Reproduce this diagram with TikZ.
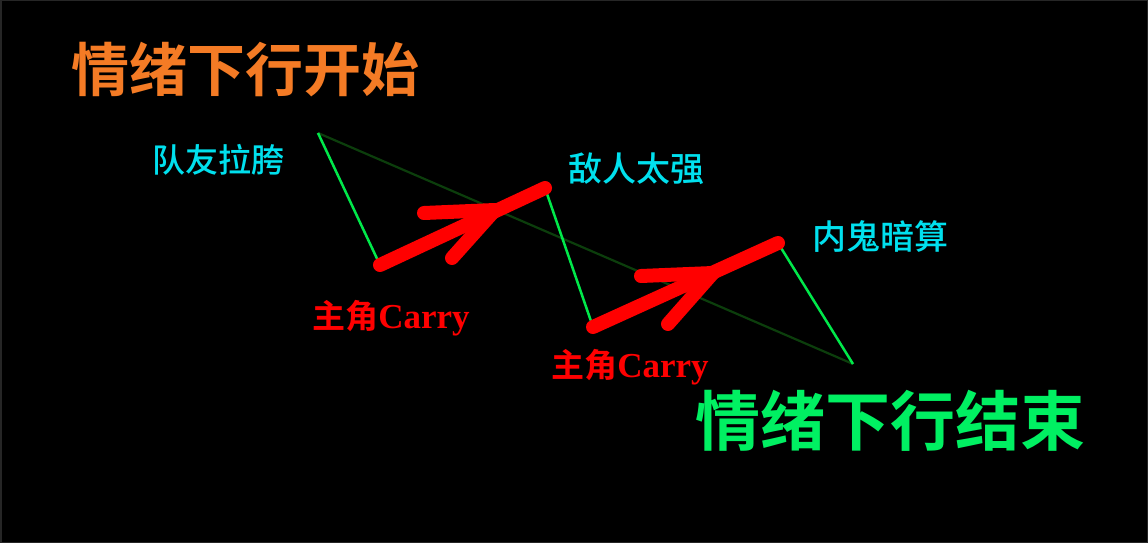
\documentclass[tikz,border=0pt]{standalone}
\usepackage{fontspec}
\newfontfamily\cjk{Noto Sans CJK SC Medium}
\newfontfamily\cjkb{Noto Sans CJK SC Bold}
\newfontfamily\latb{Liberation Serif}[UprightFont=* Bold]
\definecolor{bgline}{HTML}{262626}
\definecolor{ttlorange}{HTML}{F47B25}
\definecolor{ttlgreen}{HTML}{00F062}
\definecolor{lblcyan}{HTML}{00E0EE}
\definecolor{lblred}{HTML}{FF0000}
\definecolor{zig}{HTML}{00E84A}
\definecolor{trend}{HTML}{0C3E0C}
\tikzset{
  txt/.style={inner sep=0pt, anchor=center},
  zigline/.style={draw=zig, line width=2.5pt},
  trendline/.style={draw=trend, line width=2.2pt},
  bigarrow/.style={draw=lblred, line width=14pt, line cap=round},
}
\begin{document}
\begin{tikzpicture}[x=1pt,y=-1pt]
\fill[black] (0,0) rectangle (1148,543);
\useasboundingbox (0,0) rectangle (1148,543);
\draw[bgline, line width=3pt] (0,0) rectangle (1148,543);
% points
\coordinate (p1) at (318,133);
\coordinate (p2) at (380,265);
\coordinate (p3) at (545,188);
\coordinate (p4) at (593,327);
\coordinate (p5) at (778,243);
\coordinate (p6) at (853,364);
\coordinate (t1) at (495,210);
\coordinate (h1a) at (424,213);
\coordinate (h1b) at (452,258);
\coordinate (t2) at (713,273);
\coordinate (h2a) at (641,276);
\coordinate (h2b) at (668,324);
% lines
\draw[trendline] (p1) -- (p6);
\draw[zigline] (p1) -- (p2);
\draw[zigline] (p3) -- (p4);
\draw[zigline] (p5) -- (p6);
\draw[bigarrow] (p2) -- (p3);
\draw[bigarrow] (h1a) -- (t1);
\draw[bigarrow] (h1b) -- (t1);
\draw[bigarrow] (p4) -- (p5);
\draw[bigarrow] (h2a) -- (t2);
\draw[bigarrow] (h2b) -- (t2);
% texts
\node[txt, text=ttlorange, font=\cjkb\fontsize{58}{60}\selectfont] (start) at (245,70) {情绪下行开始};
\node[txt, text=ttlgreen, font=\cjkb\fontsize{65}{67}\selectfont] (end) at (890,421) {情绪下行结束};
\node[txt, text=lblcyan, font=\cjk\fontsize{33}{35}\selectfont] (l1) at (218,160) {队友拉胯};
\node[txt, text=lblcyan, font=\cjk\fontsize{34}{36}\selectfont] (l2) at (636,169) {敌人太强};
\node[txt, text=lblcyan, font=\cjk\fontsize{34}{36}\selectfont] (l3) at (880,237) {内鬼暗算};
\node[txt, text=lblred, font=\fontsize{33}{35}\selectfont] (c1) at (391,318) {{\cjkb 主角}{\latb\fontsize{35}{37}\selectfont Carry}};
\node[txt, text=lblred, font=\fontsize{33}{35}\selectfont] (c2) at (630,367) {{\cjkb 主角}{\latb\fontsize{35}{37}\selectfont Carry}};
\end{tikzpicture}
\end{document}
